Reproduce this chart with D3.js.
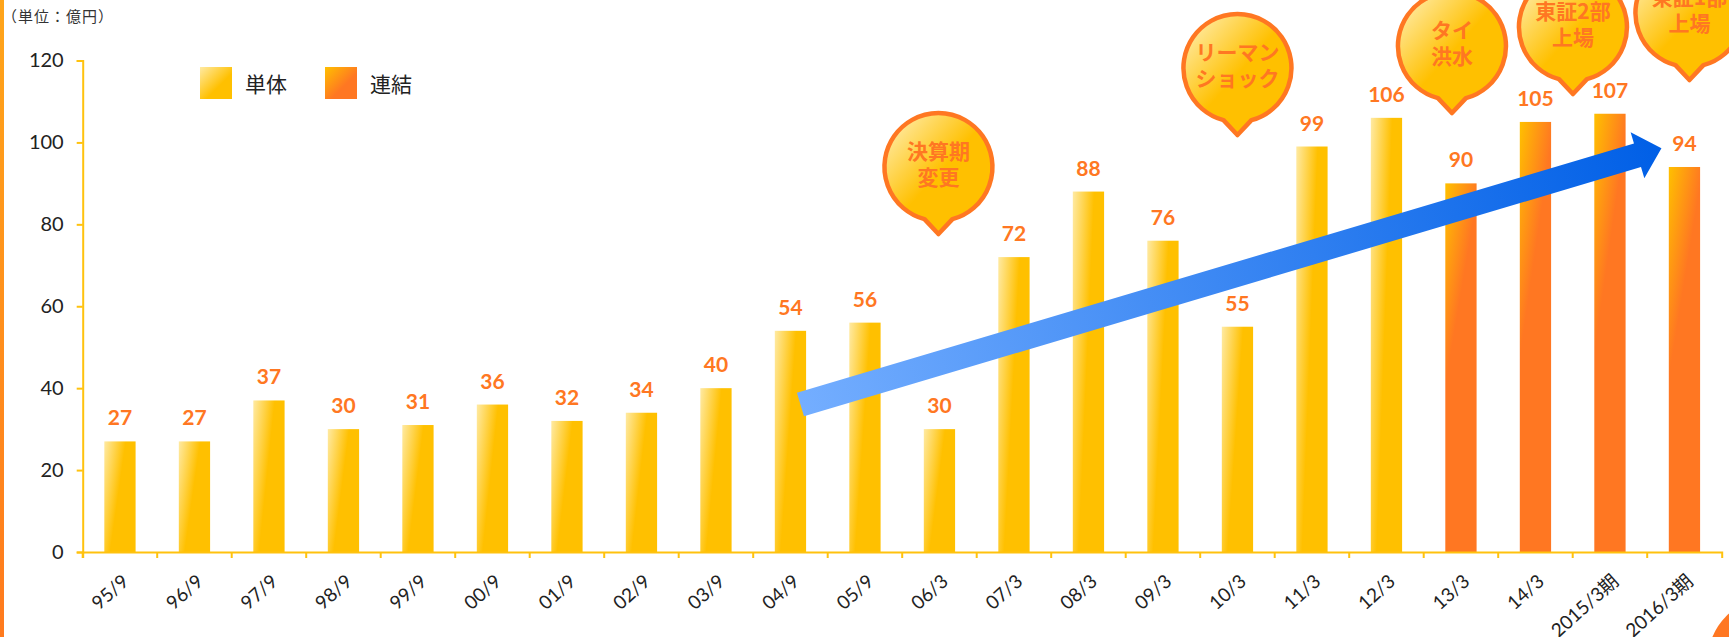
<!DOCTYPE html>
<html><head><meta charset="utf-8">
<script src="https://cdn.jsdelivr.net/npm/d3@7"></script>
<style>
html,body{margin:0;padding:0;background:#fff;overflow:hidden}
svg{display:block}
</style></head><body>
<svg id="chart" width="1729" height="637"></svg>
<script>
// ---------- data ----------
const categories = ["95/9","96/9","97/9","98/9","99/9","00/9","01/9","02/9","03/9","04/9","05/9","06/3","07/3","08/3","09/3","10/3","11/3","12/3","13/3","14/3","2015/3期","2016/3期"];
const values = [27,27,37,30,31,36,32,34,40,54,56,30,72,88,76,55,99,106,90,105,107,94];
const seriesOf = ["単体","単体","単体","単体","単体","単体","単体","単体","単体","単体","単体","単体","単体","単体","単体","単体","単体","単体","連結","連結","連結","連結"];
const seriesNames = ["単体","連結"];
const yTickValues = [0,20,40,60,80,100,120];
const unitLabel = "（単位：億円）";
const calloutCats = ["06/3","10/3","13/3","2015/3期","2016/3期"];
const calloutTexts = [["決算期","変更"],["リーマン","ショック"],["タイ","洪水"],["東証2部","上場"],["東証1部","上場"]];
const trendFrom = {cat:"04/9", value:36};
const trendTo = {cat:"2016/3期", value:98.6};

// ---------- layout / style ----------
const W = 1729, H = 637;
const ORANGE = "#FF7722", GOLD = "#FFC000", AXIS = "#FFC20E", INK = "#222";
const calloutLayout = [{dx:-1,tipY:234},{dx:0,tipY:135},{dx:-9,tipY:113},{dx:-37,tipY:94},{dx:5,tipY:80}];
const trendOffsets = {fromDx:10, toDx:-23};

const svg = d3.select("#chart");
const defs = svg.append("defs");
function lin(id, x1,y1,x2,y2, stops, units){
  const g = defs.append("linearGradient").attr("id",id)
    .attr("x1",x1).attr("y1",y1).attr("x2",x2).attr("y2",y2);
  if (units) g.attr("gradientUnits",units);
  stops.forEach(s=>g.append("stop").attr("offset",s[0]).attr("stop-color",s[1]));
  return g;
}
lin("gSolo",0,0,1,0.5,[[0,"#FFEAA3"],[0.55,GOLD],[1,GOLD]]);
lin("gCons",0,0,1,2,[[0,GOLD],[0.22,ORANGE],[1,ORANGE]]);
lin("gLegSolo",0,0,1,1,[[0,"#FFEAA3"],[0.6,GOLD],[1,GOLD]]);
lin("gLegCons",0,0,1,1,[[0,GOLD],[0.6,ORANGE],[1,ORANGE]]);
lin("gBubble",0,0,1,1,[[0,"#FFF3C4"],[0.5,GOLD],[1,GOLD]]);
lin("gStrip",0,0,0,1,[[0,"#FFA51A"],[1,"#FF7A1E"]]);

const x = d3.scaleBand().domain(categories).range([82.7,1721.7]).paddingInner(0.58).paddingOuter(0.29);
const y = d3.scaleLinear().domain([0,120]).range([552,60.5]);
const bw = x.bandwidth();
const gap = (x.step()-bw)/2;

// left strip & corner decoration
svg.append("rect").attr("x",0).attr("y",0).attr("width",4).attr("height",H).attr("fill","url(#gStrip)");
svg.append("circle").attr("cx",1770).attr("cy",660).attr("r",62).attr("fill",ORANGE);

// unit label
svg.append("text").attr("x",2).attr("y",22).attr("font-family","'Noto Sans CJK JP'")
  .attr("font-size",15).attr("letter-spacing",1).attr("fill","#333").text(unitLabel);

// bars
svg.append("g").selectAll("rect").data(categories).join("rect")
  .attr("x",d=>x(d)).attr("width",bw)
  .attr("y",(d,i)=>y(values[i])).attr("height",(d,i)=>y(0)-y(values[i]))
  .attr("fill",(d,i)=>seriesOf[i]==="単体"?"url(#gSolo)":"url(#gCons)");

// value labels
svg.append("g").selectAll("text").data(categories).join("text")
  .attr("x",d=>x(d)+bw/2).attr("y",(d,i)=>y(values[i])-16)
  .attr("text-anchor","middle").attr("font-family","Lato").attr("font-weight",700)
  .attr("font-size",21).attr("fill",ORANGE).text((d,i)=>values[i]);

// y axis
const yAxis = svg.append("g").attr("transform","translate(82.7,0)")
  .call(d3.axisLeft(y).tickValues(yTickValues).tickSize(6).tickPadding(13));
yAxis.select(".domain").attr("stroke",AXIS).attr("stroke-width",2);
yAxis.selectAll(".tick line").attr("stroke",AXIS).attr("stroke-width",2);
yAxis.selectAll(".tick text").attr("font-family","Lato").attr("font-size",20).attr("fill",INK);

// x axis
const xAxis = svg.append("g").attr("transform",`translate(0,${y(0)})`)
  .call(d3.axisBottom(x).tickSizeInner(0).tickSizeOuter(6).tickPadding(0));
xAxis.select(".domain").attr("stroke",AXIS).attr("stroke-width",2);
xAxis.selectAll(".tick line").remove();
xAxis.selectAll(".tick text")
  .attr("font-family","Lato,'Noto Sans CJK JP'").attr("font-size",19).attr("fill",INK)
  .attr("text-anchor","end").attr("y",0).attr("dy",0)
  .attr("transform","translate(10,31) rotate(-42)");
xAxis.append("g").selectAll("line").data(categories).join("line")
  .attr("x1",d=>x(d)-gap).attr("x2",d=>x(d)-gap).attr("y1",0).attr("y2",6)
  .attr("stroke",AXIS).attr("stroke-width",2);

// trend arrow
const T = [x(trendFrom.cat)+bw/2+trendOffsets.fromDx, y(trendFrom.value)];
const P = [x(trendTo.cat)+bw/2+trendOffsets.toDx, y(trendTo.value)];
const L = Math.hypot(P[0]-T[0],P[1]-T[1]);
const u = [(P[0]-T[0])/L,(P[1]-T[1])/L], n = [-u[1],u[0]];
const hw = 12.3, hh = 24, hl = 25;
const B = [P[0]-u[0]*hl, P[1]-u[1]*hl];
const pt = (p,k)=>[p[0]+n[0]*k,p[1]+n[1]*k];
const arrowPts = [pt(T,hw),pt(B,hw),pt(B,hh),P,pt(B,-hh),pt(B,-hw),pt(T,-hw)];
lin("gArrow",T[0],T[1],P[0],P[1],[[0,"#74AEFF"],[1,"#005FE6"]],"userSpaceOnUse");
svg.append("path").attr("d","M"+arrowPts.map(p=>p.join(",")).join("L")+"Z").attr("fill","url(#gArrow)");

// legend
const legend = svg.append("g");
seriesNames.forEach((s,i)=>{
  const lx = 200 + i*125;
  legend.append("rect").attr("x",lx).attr("y",67).attr("width",32).attr("height",32)
    .attr("fill",i===0?"url(#gLegSolo)":"url(#gLegCons)");
  legend.append("text").attr("x",lx+45).attr("y",83).attr("dominant-baseline","central")
    .attr("font-family","'Noto Sans CJK JP'").attr("font-size",21).attr("fill",INK).text(s);
});

// callouts
const R = 54, th = 15*Math.PI/180;
calloutCats.forEach((c,i)=>{
  const lay = calloutLayout[i];
  const tx = x(c)+bw/2+lay.dx, ty = lay.tipY;
  const cx = tx, cy = ty-67;
  const a = R*Math.sin(th), b = R*Math.cos(th);
  const g = svg.append("g");
  g.append("path")
    .attr("d",`M${cx-a},${cy+b}A${R},${R} 0 1 1 ${cx+a},${cy+b}L${tx},${ty}Z`)
    .attr("fill","url(#gBubble)").attr("stroke",ORANGE).attr("stroke-width",4.5)
    .attr("stroke-linejoin","round");
  calloutTexts[i].forEach((t,j)=>{
    g.append("text").attr("x",cx).attr("y",cy-8+j*26).attr("text-anchor","middle")
      .attr("font-family","'Noto Sans CJK JP'").attr("font-weight",700).attr("font-size",21)
      .attr("fill",ORANGE).text(t);
  });
});
</script>
</body></html>
